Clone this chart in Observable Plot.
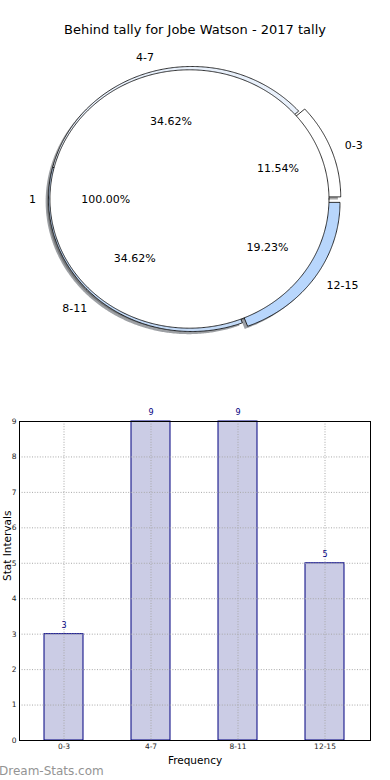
<!DOCTYPE html>
<html>
<head>
<meta charset="utf-8">
<script src="https://cdn.jsdelivr.net/npm/d3@7"></script>
<script src="https://cdn.jsdelivr.net/npm/@observablehq/plot@0.6"></script>
<style>
  html, body { margin: 0; padding: 0; background: #fff; }
  #root { position: relative; width: 390px; height: 780px; overflow: hidden; font-family: "DejaVu Sans", sans-serif; }
  .abs { position: absolute; white-space: nowrap; }
</style>
</head>
<body>
<div id="root">
  <div id="pie" class="abs" style="left:0;top:0"></div>
  <div id="bar" class="abs" style="left:0;top:400px"></div>
  <div class="abs" id="title" style="left:0;width:390px;top:21px;height:18px;line-height:18px;text-align:center;font-size:13px;color:#000;"></div>
  <div class="abs" id="xlabel" style="left:0;width:390px;top:752px;height:16px;line-height:16px;text-align:center;font-size:10.5px;color:#000;"></div>
  <div class="abs" id="water" style="left:-1px;top:763px;height:16px;line-height:16px;font-size:12px;color:#949494;"></div>
</div>
<script>
// ---- data ----
const titleText = "Behind tally for Jobe Watson - 2017 tally";
const outerLabels = ["0-3", "4-7", "8-11", "12-15"];
const outerValues = [3, 9, 9, 5];
const outerExplode = [0.045, 0, 0, 0.045];
const outerColors = ["#ffffff", "#e9f1fc", "#c4dbf8", "#b8d6fc"];
const innerLabels = ["1"];
const innerValues = [26];
const innerExplode = [0.015];
const innerColors = ["#ffffff"];

const barCategories = ["0-3", "4-7", "8-11", "12-15"];
const barValues = [3, 9, 9, 5];
const yTickValues = [0, 1, 2, 3, 4, 5, 6, 7, 8, 9];
const xAxisLabel = "Frequency";
const yAxisLabel = "Stat Intervals";
const watermark = "Dream-Stats.com";

// ---- pie geometry (in pie units) ----
const outerR = 1, innerR = 0.975, labelDist = 1.1, pctDist = 0.6;
const shadowDx = -0.02, shadowDy = -0.02;

function shade(hex) {
  const c = d3.rgb(hex);
  return d3.rgb(c.r * 0.3, c.g * 0.3, c.b * 0.3).formatHex();
}

function buildPie(prefix, labels, values, explode, colors, R) {
  const total = d3.sum(values);
  const wedges = [], shadows = [], texts = [], pcts = [];
  let a = 0;
  labels.forEach((lab, i) => {
    const span = values[i] / total * 2 * Math.PI;
    const a0 = a, a1 = a + span;
    a = a1;
    const m = (a0 + a1) / 2;
    const ox = explode[i] * Math.cos(m), oy = explode[i] * Math.sin(m);
    const full = span >= 2 * Math.PI - 1e-9;
    const n = Math.max(2, Math.ceil(span / (Math.PI / 360)));
    const pts = [];
    if (!full) pts.push([ox, oy]);
    for (let k = 0; k <= n; k++) {
      const t = a0 + span * k / n;
      pts.push([ox + R * Math.cos(t), oy + R * Math.sin(t)]);
    }
    if (!full) pts.push([ox, oy]);
    const id = prefix + i;
    pts.forEach(([x, y]) => {
      wedges.push({id, x, y, color: colors[i]});
      shadows.push({id, x: x + shadowDx, y: y + shadowDy, color: shade(colors[i])});
    });
    texts.push({label: lab, x: ox + labelDist * R * Math.cos(m), y: oy + labelDist * R * Math.sin(m)});
    pcts.push({label: (values[i] / total * 100).toFixed(2) + "%", x: ox + pctDist * R * Math.cos(m), y: oy + pctDist * R * Math.sin(m)});
  });
  return {wedges, shadows, texts, pcts};
}

const outer = buildPie("o", outerLabels, outerValues, outerExplode, outerColors, outerR);
const inner = buildPie("i", innerLabels, innerValues, innerExplode, innerColors, innerR);
const allTexts = outer.texts.concat(inner.texts);
const allPcts = outer.pcts.concat(inner.pcts);

const pie = Plot.plot({
  width: 390, height: 400, margin: 0,
  x: {domain: [-1, 1], range: [48, 334.2], axis: null},
  y: {domain: [-1, 1], range: [331, 66], axis: null},
  color: {type: "identity"},
  style: {fontFamily: "DejaVu Sans", fontSize: "11px", background: "transparent"},
  marks: [
    Plot.line(outer.shadows.concat(inner.shadows), {x: "x", y: "y", z: "id", fill: "color", fillOpacity: 0.5, stroke: "none", curve: "linear"}),
    Plot.line(outer.wedges, {x: "x", y: "y", z: "id", fill: "color", stroke: "black", strokeWidth: 0.8, curve: "linear"}),
    Plot.line(inner.wedges, {x: "x", y: "y", z: "id", fill: "color", stroke: "black", strokeWidth: 0.8, curve: "linear"}),
    Plot.text(allTexts, {filter: d => d.x > 0, x: "x", y: "y", text: "label", textAnchor: "start", fontSize: 11, fill: "black"}),
    Plot.text(allTexts, {filter: d => d.x <= 0, x: "x", y: "y", text: "label", textAnchor: "end", fontSize: 11, fill: "black"}),
    Plot.text(allPcts, {x: "x", y: "y", text: "label", fontSize: 11, fill: "black"})
  ]
});
document.getElementById("pie").appendChild(pie);

// ---- bar chart ----
const bars = barCategories.map((c, i) => ({cat: c, value: barValues[i]}));
const bar = Plot.plot({
  width: 390, height: 380,
  marginTop: 21, marginBottom: 40, marginLeft: 19, marginRight: 20,
  x: {domain: barCategories, paddingInner: 0.55, paddingOuter: 0.275, align: 0.5, label: null, tickSize: 0, tickPadding: 3},
  y: {domain: [0, 9], ticks: yTickValues, label: null, tickSize: 0, tickPadding: 3, tickFormat: d => String(d)},
  style: {fontFamily: "DejaVu Sans", fontSize: "7.5px", color: "#222", background: "transparent"},
  marks: [
    Plot.barY(bars, {x: "cat", y: "value", fill: "#cbcce5", stroke: "#000080", strokeWidth: 1}),
    Plot.ruleY(yTickValues, {stroke: "#a8a8a8", strokeDasharray: "1,1.6", strokeWidth: 1}),
    Plot.ruleX(barCategories, {x: d => d, stroke: "#a8a8a8", strokeDasharray: "1,1.6", strokeWidth: 1}),
    Plot.text(bars, {x: "cat", y: "value", text: d => String(d.value), dy: -9, fill: "#000080", fontSize: 8}),
    Plot.text([yAxisLabel], {frameAnchor: "left", text: d => d, rotate: -90, dx: -9, lineAnchor: "bottom", fontSize: 10.5, fill: "black"}),
    Plot.frame({stroke: "black", strokeWidth: 1})
  ]
});
document.getElementById("bar").appendChild(bar);

document.getElementById("title").textContent = titleText;
document.getElementById("xlabel").textContent = xAxisLabel;
document.getElementById("water").textContent = watermark;
</script>
</body>
</html>
